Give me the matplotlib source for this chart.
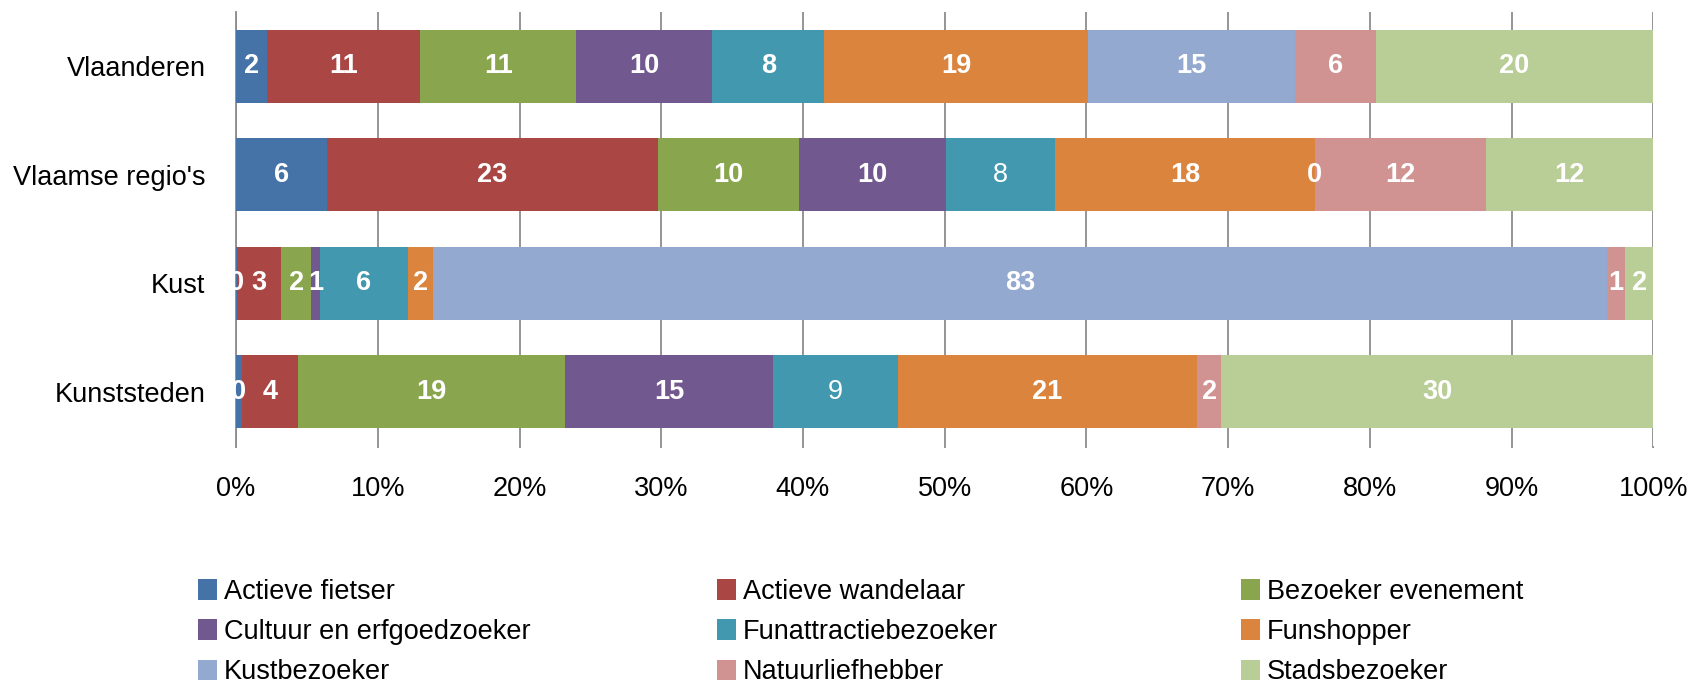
import numpy as np
import matplotlib
matplotlib.use('Agg')
import matplotlib.pyplot as plt
from matplotlib.patches import Patch

categories = ['Vlaanderen', "Vlaamse regio's", 'Kust', 'Kunststeden']
series_names = ['Actieve fietser', 'Actieve wandelaar', 'Bezoeker evenement',
                'Cultuur en erfgoedzoeker', 'Funattractiebezoeker', 'Funshopper',
                'Kustbezoeker', 'Natuurliefhebber', 'Stadsbezoeker']
actieve_fietser = [2.2, 6.4, 0.1, 0.4]
actieve_wandelaar = [10.8, 23.4, 3.1, 4.0]
bezoeker_evenement = [11.0, 9.9, 2.1, 18.8]
cultuur_erfgoed = [9.6, 10.4, 0.6, 14.7]
funattractie = [7.9, 7.7, 6.2, 8.8]
funshopper = [18.6, 18.3, 1.8, 21.1]
kustbezoeker = [14.6, 0.0, 82.8, np.nan]
natuurliefhebber = [5.7, 12.1, 1.3, 1.7]
stadsbezoeker = [19.6, 11.8, 2.0, 30.5]
x_ticks = [0, 10, 20, 30, 40, 50, 60, 70, 80, 90, 100]
x_tick_labels = ['0%', '10%', '20%', '30%', '40%', '50%', '60%', '70%', '80%', '90%', '100%']

series_values = [actieve_fietser, actieve_wandelaar, bezoeker_evenement, cultuur_erfgoed,
                 funattractie, funshopper, kustbezoeker, natuurliefhebber, stadsbezoeker]
colors = ['#4572A7', '#AA4643', '#89A54E', '#71588F', '#4198AF',
          '#DB843D', '#93A9CF', '#D19392', '#B9CD96']

plt.rcParams['font.family'] = ['Liberation Sans', 'DejaVu Sans']
FS = 19.5

W, H = 1696, 682
fig = plt.figure(figsize=(W / 100, H / 100), dpi=100)
ax = fig.add_axes([236 / W, 1 - 446 / H, (1653.5 - 236) / W, (446 - 12) / H])

y = np.arange(len(categories))[::-1]
left = np.zeros(len(categories))
for name, vals, c in zip(series_names, series_values, colors):
    v = np.array(vals, dtype=float)
    vv = np.nan_to_num(v)
    cont = ax.barh(y, vv, left=left, height=0.677, color=c, label=name,
                   edgecolor='none', zorder=2)
    labels = ['' if np.isnan(a) else f'{a:.0f}' for a in v]
    texts = ax.bar_label(cont, labels=labels, label_type='center', color='white',
                         fontsize=FS, fontweight='bold')
    for t in texts:
        t.set_clip_on(True)
        t.set_zorder(5)
    if name == 'Funattractiebezoeker':
        texts[1].set_fontweight('normal')
        texts[3].set_fontweight('normal')
    left += vv

ax.set_xlim(0, 100)
ax.set_ylim(-0.5, len(categories) - 0.5)
ax.set_yticks(y)
ax.set_yticklabels(categories, fontsize=FS)
ax.set_xticks(x_ticks)
ax.set_xticklabels(x_tick_labels, fontsize=FS)
ax.tick_params(axis='y', length=0, pad=22)
ax.tick_params(axis='x', length=1.5, color='#8c8c8c', width=1.3, pad=20)
ax.xaxis.grid(True, color='#8c8c8c', linewidth=1.3, zorder=0)
ax.set_axisbelow(True)
for s in ['top', 'right', 'bottom']:
    ax.spines[s].set_visible(False)
ax.spines['left'].set_color('#8c8c8c')
ax.spines['left'].set_linewidth(1.3)
ax.spines['left'].set_zorder(1)

handles = [Patch(facecolor=c, edgecolor='none') for c in colors]
col_x = [198, 717, 1241]
for ci in range(3):
    idx = [ci, ci + 3, ci + 6]
    fig.legend([handles[i] for i in idx], [series_names[i] for i in idx],
               loc='upper left', bbox_to_anchor=(col_x[ci] / W, 1 - 579 / H),
               frameon=False, fontsize=FS, borderpad=0, borderaxespad=0,
               handlelength=0.7, handleheight=0.78, handletextpad=0.25,
               labelspacing=0.52)

fig.savefig('out.png', dpi=100)
